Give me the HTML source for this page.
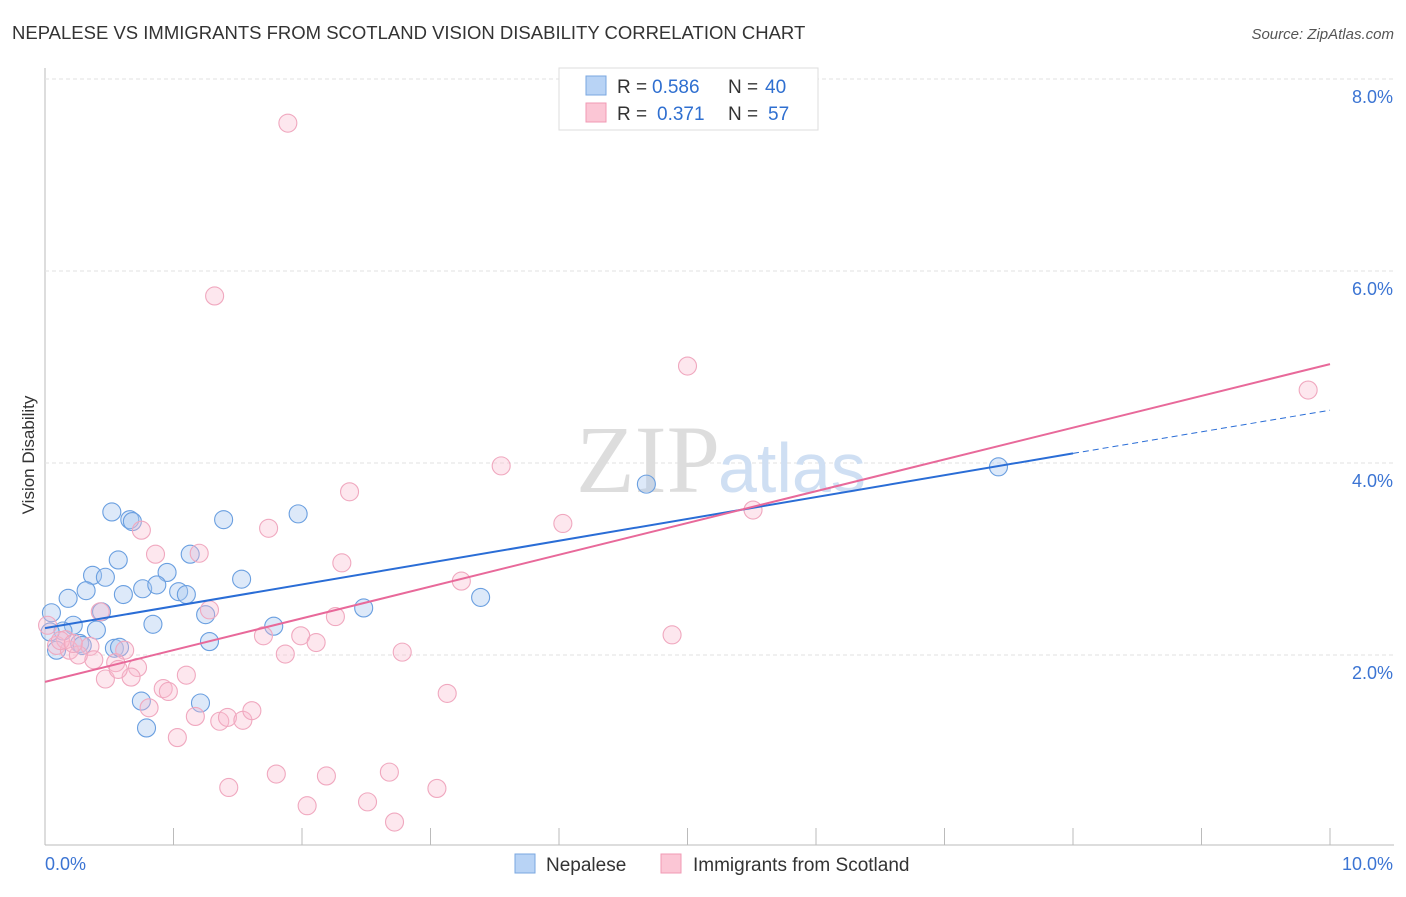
<!DOCTYPE html>
<html><head><meta charset="utf-8"><style>
body{margin:0;background:#fff;font-family:"Liberation Sans",sans-serif;}
</style></head><body>
<svg width="1406" height="892" xmlns="http://www.w3.org/2000/svg" id="svg" style="font-family:'Liberation Sans',sans-serif">
<text x="12" y="39" font-size="18.5" fill="#333">NEPALESE VS IMMIGRANTS FROM SCOTLAND VISION DISABILITY CORRELATION CHART</text>
<text x="1394" y="39" font-size="15" fill="#555" text-anchor="end" font-style="italic">Source: ZipAtlas.com</text>
<text x="34" y="455" font-size="17" fill="#333" text-anchor="middle" transform="rotate(-90 34 455)">Vision Disability</text>
<g id="grid"></g>
<text x="720" y="492" font-size="96" fill="#ddd" text-anchor="end" font-family="Liberation Serif">ZIP</text>
<text x="718" y="492" font-size="70" fill="#cfdff3">atlas</text>
<g id="pts"></g>
<g id="lines"></g>
<g>
<rect x="559" y="68" width="259" height="62" fill="#fff" stroke="#ddd"/>
<rect x="586" y="76" width="20" height="19" fill="#b8d3f5" stroke="#7aa7e0"/>
<rect x="586" y="103" width="20" height="19" fill="#fbc6d5" stroke="#f09ab4"/>
<text x="617" y="93" font-size="19" fill="#333">R =</text>
<text x="652" y="93" font-size="19" fill="#2f6fd0">0.586</text>
<text x="728" y="93" font-size="19" fill="#333">N =</text>
<text x="765" y="93" font-size="19" fill="#2f6fd0">40</text>
<text x="617" y="120" font-size="19" fill="#333">R =</text>
<text x="657" y="120" font-size="19" fill="#2f6fd0">0.371</text>
<text x="728" y="120" font-size="19" fill="#333">N =</text>
<text x="768" y="120" font-size="19" fill="#2f6fd0">57</text>
</g>
<g>
<rect x="515" y="854" width="20" height="19" fill="#b8d3f5" stroke="#7aa7e0"/>
<text x="546" y="871" font-size="19" fill="#333">Nepalese</text>
<rect x="661" y="854" width="20" height="19" fill="#fbc6d5" stroke="#f09ab4"/>
<text x="693" y="871" font-size="19" fill="#333">Immigrants from Scotland</text>
</g>
<text x="45" y="870" font-size="18" fill="#3b74d3">0.0%</text>
<text x="1393" y="870" font-size="18" fill="#3b74d3" text-anchor="end">10.0%</text>
</svg>
<script>
const yTicks=[2,4,6,8];
const yTickLabels=["2.0%","4.0%","6.0%","8.0%"];
const xTicks=[0,1,2,3,4,5,6,7,8,9,10];
const blueX=[0.52,0.66,0.68,1.39,1.97,0.57,1.13,0.37,0.47,0.95,1.53,0.32,0.61,0.76,0.87,1.04,1.10,0.18,0.44,1.25,0.84,0.40,0.22,0.05,0.14,0.27,0.54,0.09,1.28,1.78,2.48,3.39,4.68,7.42,0.75,1.21,0.79,0.04,0.29,0.58];
const blueY=[3.49,3.41,3.39,3.41,3.47,2.99,3.05,2.83,2.81,2.86,2.79,2.67,2.63,2.69,2.73,2.66,2.63,2.59,2.45,2.42,2.32,2.26,2.31,2.44,2.25,2.12,2.07,2.05,2.14,2.30,2.49,2.60,3.78,3.96,1.52,1.50,1.24,2.24,2.10,2.08];
const pinkX=[1.89,1.32,5.00,9.83,3.55,2.37,0.75,1.74,4.03,5.51,0.86,1.20,2.31,3.24,1.28,2.26,0.43,1.70,1.99,2.11,4.88,2.78,1.87,0.02,0.09,0.19,0.35,0.16,0.62,0.55,0.72,0.38,0.47,0.67,1.10,0.57,0.92,0.96,0.81,1.03,1.17,1.36,1.42,1.54,1.61,3.13,1.80,2.19,2.68,1.43,3.05,2.04,2.51,2.72,0.26,0.12,0.22];
const pinkY=[7.54,5.74,5.01,4.76,3.97,3.70,3.30,3.32,3.37,3.51,3.05,3.06,2.96,2.77,2.47,2.40,2.45,2.20,2.20,2.13,2.21,2.03,2.01,2.31,2.10,2.05,2.09,2.16,2.05,1.92,1.87,1.95,1.75,1.77,1.79,1.85,1.65,1.62,1.45,1.14,1.36,1.31,1.35,1.32,1.42,1.60,0.76,0.74,0.78,0.62,0.61,0.43,0.47,0.26,2.00,2.15,2.12];
const blueTrend=[2.28,4.10,4.55]; // at x=0,8,10
const pinkTrend=[1.72,5.03]; // at x=0,10
const X=v=>45+v*128.5, Y=v=>847-v*96;
const NS="http://www.w3.org/2000/svg";
function mk(t,a,p){const e=document.createElementNS(NS,t);for(const k in a)e.setAttribute(k,a[k]);p.appendChild(e);return e;}
const g=document.getElementById('grid');
let ax=mk('line',{x1:45,y1:68,x2:45,y2:845,stroke:'#bbb'},g);


let bx=mk('line',{x1:45,y1:845,x2:1394,y2:845,stroke:'#bbb'},g);


yTicks.forEach((v,i)=>{
 const l=mk('line',{x1:45,y1:Y(v),x2:1394,y2:Y(v),stroke:'#e2e2e2','stroke-dasharray':'4,3'},g);
 
 
 const t=mk('text',{x:1393,y:Y(v)+24,'font-size':18,fill:'#3b74d3','text-anchor':'end'},g);
 t.textContent=yTickLabels[i];
 
 
});
xTicks.forEach(v=>{
 const l=mk('line',{x1:X(v),y1:828,x2:X(v),y2:845,stroke:'#bbb'},g);
 
 
});
const p=document.getElementById('pts');
blueX.forEach((v,i)=>{
 const c=mk('circle',{cx:X(v),cy:Y(blueY[i]),r:9,fill:'rgba(170,200,240,0.4)',stroke:'#6a9fe0','stroke-width':1.1},p);
 
 
});
pinkX.forEach((v,i)=>{
 const c=mk('circle',{cx:X(v),cy:Y(pinkY[i]),r:9,fill:'rgba(248,185,205,0.35)',stroke:'#f0a8bf','stroke-width':1.1},p);
 
 
});
const L=document.getElementById('lines');
let b1=mk('line',{x1:X(0),y1:Y(blueTrend[0]),x2:X(8),y2:Y(blueTrend[1]),stroke:'#2a6dd6','stroke-width':2},L);


let b2=mk('line',{x1:X(8),y1:Y(blueTrend[1]),x2:X(10),y2:Y(blueTrend[2]),stroke:'#2a6dd6','stroke-width':1,'stroke-dasharray':'6,4'},L);


let p1=mk('line',{x1:X(0),y1:Y(pinkTrend[0]),x2:X(10),y2:Y(pinkTrend[1]),stroke:'#e8699a','stroke-width':2},L);


</script>
</body></html>
